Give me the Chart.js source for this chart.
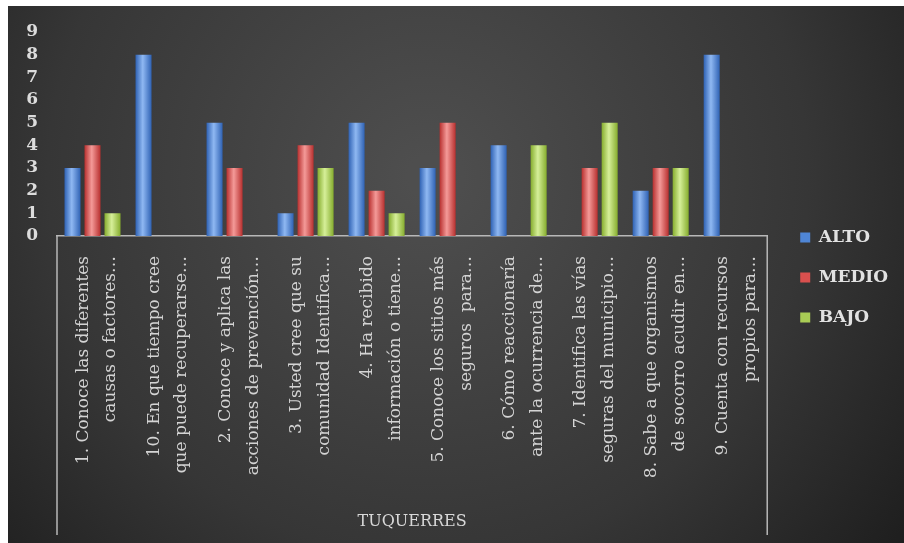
<!DOCTYPE html>
<html>
<head>
<meta charset="utf-8">
<script src="https://cdn.jsdelivr.net/npm/chart.js@4/dist/chart.umd.min.js"></script>
<style>
  html, body { margin: 0; padding: 0; background: #fff; }
  #wrap { position: absolute; left: 8px; top: 6px; width: 896px; height: 537px; }
</style>
</head>
<body>
<div id="wrap"><canvas id="chart"></canvas></div>
<script>
// categories (rotated two-line labels)
const questions = [
    ['1. Conoce las diferentes', 'causas o factores…'],
    ['10. En que tiempo cree', 'que puede recuperarse…'],
    ['2. Conoce y aplica las', 'acciones de prevención…'],
    ['3. Usted cree que su', 'comunidad Identifica…'],
    ['4. Ha recibido', 'información o tiene…'],
    ['5. Conoce los sitios más', 'seguros  para…'],
    ['6. Cómo reaccionaría', 'ante la ocurrencia de…'],
    ['7. Identifica las vías', 'seguras del municipio…'],
    ['8. Sabe a que organismos', 'de socorro acudir en…'],
    ['9. Cuenta con recursos', 'propios para…']
];
const groupLabel = 'TUQUERRES';
const alto  = [3, 8, 5, 1, 5, 3, 4, 0, 2, 8];
const medio = [4, 0, 3, 4, 2, 5, 0, 3, 3, 0];
const bajo  = [1, 0, 0, 3, 1, 0, 4, 5, 3, 0];
const yTicks = [0, 1, 2, 3, 4, 5, 6, 7, 8, 9];

const CAT_PCT = 0.845, BAR_PCT = 0.8;
const palette = [
    { edge: '#2f62b4', mid: '#8fb8f2', flat: '#4f86d6' },
    { edge: '#b8302f', mid: '#f49a98', flat: '#d9504e' },
    { edge: '#86ad2e', mid: '#d6ef99', flat: '#a9cc55' }
];

function barFill(ctx) {
    const p = palette[ctx.datasetIndex];
    const chart = ctx.chart, xs = chart.scales.x;
    if (ctx.type !== 'data' || !xs || !chart.chartArea) return p.flat;
    const cw = xs.width / questions.length;
    const step = cw * CAT_PCT / 3;
    const bw = step * BAR_PCT;
    const left = xs.getPixelForValue(ctx.dataIndex) - cw * CAT_PCT / 2 + ctx.datasetIndex * step + (step - bw) / 2;
    const g = chart.ctx.createLinearGradient(left, 0, left + bw, 0);
    g.addColorStop(0, p.edge);
    g.addColorStop(0.45, p.mid);
    g.addColorStop(1, p.edge);
    return g;
}

const backdrop = {
    id: 'backdrop',
    beforeDraw(chart) {
        const { ctx, width, height } = chart;
        const g = ctx.createRadialGradient(420, 170, 20, 420, 170, 620);
        g.addColorStop(0, '#4e4e4e');
        g.addColorStop(0.6, '#363636');
        g.addColorStop(1, '#1c1c1c');
        ctx.save();
        ctx.fillStyle = g;
        ctx.fillRect(0, 0, width, height);
        ctx.restore();
    },
    afterDraw(chart) {
        // outer lines of the category group box
        const { ctx, chartArea } = chart;
        ctx.save();
        ctx.strokeStyle = '#b8b8b8';
        ctx.lineWidth = 1.5;
        ctx.beginPath();
        ctx.moveTo(chartArea.left, chartArea.bottom);
        ctx.lineTo(chartArea.left, chart.height - 8);
        ctx.moveTo(chartArea.right, chartArea.bottom);
        ctx.lineTo(chartArea.right, chart.height - 8);
        ctx.stroke();
        ctx.restore();
    }
};

new Chart(document.getElementById('chart'), {
    type: 'bar',
    data: {
        labels: questions,
        datasets: [
            { label: 'ALTO', data: alto },
            { label: 'MEDIO', data: medio },
            { label: 'BAJO', data: bajo }
        ].map((d, i) => Object.assign(d, {
            backgroundColor: barFill,
            categoryPercentage: CAT_PCT,
            barPercentage: BAR_PCT,
            borderWidth: 0
        }))
    },
    options: {
        responsive: true,
        maintainAspectRatio: false,
        animation: false,
        layout: { padding: { top: 26, right: 6, bottom: 20, left: 0 } },
        plugins: {
            tooltip: { enabled: false },
            legend: {
                position: 'right',
                labels: {
                    color: '#e2e2e2',
                    font: { family: 'DejaVu Serif', size: 17, weight: 'bold' },
                    boxWidth: 10,
                    boxHeight: 10,
                    padding: 23,
                    generateLabels(chart) {
                        return chart.data.datasets.map((d, i) => ({
                            text: d.label,
                            fillStyle: palette[i].flat,
                            strokeStyle: palette[i].flat,
                            lineWidth: 0,
                            fontColor: '#e2e2e2',
                            datasetIndex: i
                        }));
                    }
                }
            }
        },
        scales: {
            x: {
                grid: { display: false },
                border: { display: true, color: '#b8b8b8', width: 1.5 },
                ticks: {
                    color: '#d4d4d4',
                    font: { family: 'DejaVu Serif', size: 17, lineHeight: 1.62 },
                    minRotation: 90,
                    maxRotation: 90,
                    autoSkip: false,
                    labelOffset: -9,
                    padding: 12
                },
                title: {
                    display: true,
                    text: groupLabel,
                    color: '#d8d8d8',
                    font: { family: 'DejaVu Serif', size: 16 },
                    padding: { top: 0, bottom: -8 }
                },
                afterFit(scale) { scale.height = 287; }
            },
            y: {
                min: 0,
                max: 9,
                grid: { display: false },
                border: { display: false },
                afterBuildTicks(scale) { scale.ticks = yTicks.map(v => ({ value: v })); },
                afterFit(scale) { scale.width = 49; },
                ticks: {
                    color: '#dcdcdc',
                    font: { family: 'DejaVu Serif', size: 17, weight: 'bold' },
                    autoSkip: false,
                    padding: 11
                }
            },
            // empty spacer between plot and legend
            gap: {
                position: 'right',
                grid: { display: false },
                border: { display: false },
                ticks: { display: false },
                afterFit(scale) { scale.width = 10; }
            }
        }
    },
    plugins: [backdrop]
});
</script>
</body>
</html>
